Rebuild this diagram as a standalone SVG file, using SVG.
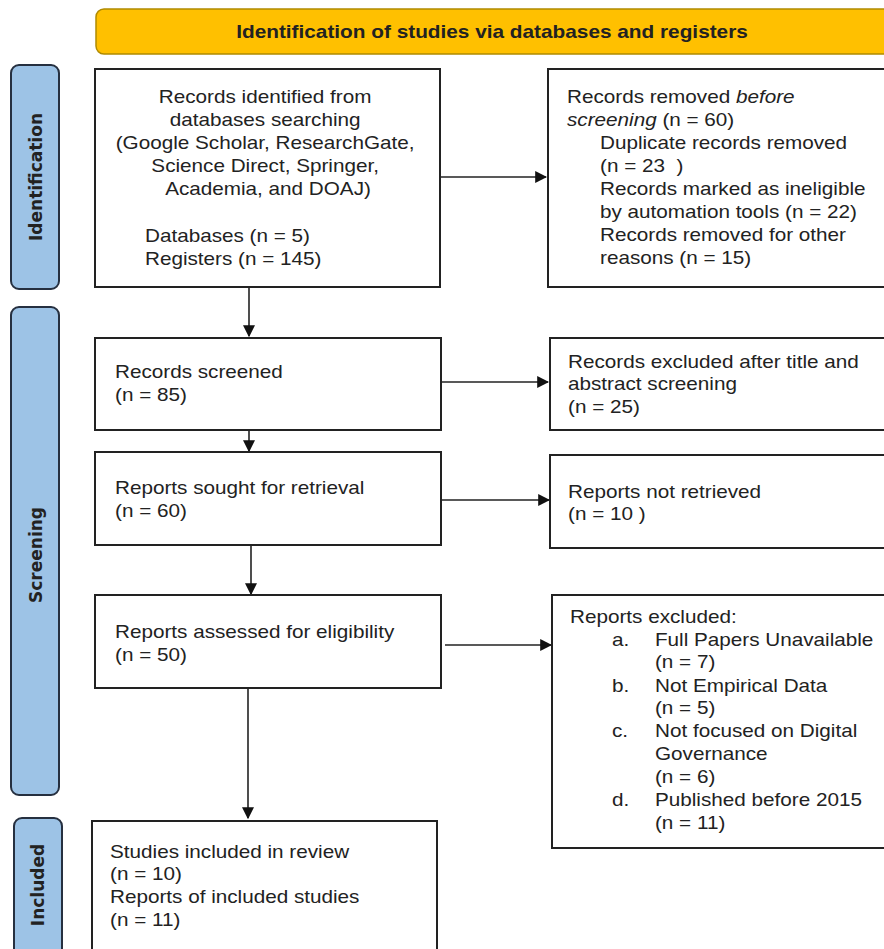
<svg xmlns="http://www.w3.org/2000/svg" width="884" height="949" viewBox="0 0 884 949">
<defs>
<style>
.box{fill:#fff;stroke:#222;stroke-width:2}
.side{fill:#9dc3e6;stroke:#263040;stroke-width:2}
.t{font-family:"Liberation Sans",Arial,sans-serif;font-size:18px;fill:#222}
.bt{font-family:"Liberation Sans",Arial,sans-serif;font-size:18px;font-weight:bold;fill:#222}
.st{font-family:"DejaVu Sans",Verdana,sans-serif;font-size:17px;font-weight:bold;fill:#222}
.ln{stroke:#222;stroke-width:1.6;fill:none}
</style>
<marker id="ah" viewBox="0 0 10 10" refX="9" refY="5" markerWidth="7.5" markerHeight="7.5" orient="auto">
<path d="M0,0 L10,5 L0,10 Z" fill="#111"/>
</marker>
</defs>
<rect width="884" height="949" fill="#fff"/>

<g id="banner">
<rect x="96" y="9" width="800" height="45" rx="8" fill="#ffc000" stroke="#b08a00" stroke-width="1.5"/>
<g transform="translate(492,38) scale(1.155,1)"><text x="0" y="0" text-anchor="middle" class="bt">Identification of studies via databases and registers</text></g>
</g>

<g id="side-identification">
<rect class="side" x="11" y="65" width="48" height="224" rx="8"/>
<text class="st" transform="translate(42,177) rotate(-90)" text-anchor="middle">Identification</text>
</g>
<g id="side-screening">
<rect class="side" x="11" y="307" width="48" height="488" rx="8"/>
<text class="st" transform="translate(42,555) rotate(-90)" text-anchor="middle">Screening</text>
</g>
<g id="side-included">
<rect class="side" x="14" y="818" width="48" height="140" rx="8"/>
<text class="st" transform="translate(44,885) rotate(-90)" text-anchor="middle">Included</text>
</g>

<g id="connectors">
<line class="ln" x1="440" y1="177" x2="546" y2="177" marker-end="url(#ah)"/>
<line class="ln" x1="249" y1="287" x2="249" y2="336" marker-end="url(#ah)"/>
<line class="ln" x1="441" y1="382" x2="548" y2="382" marker-end="url(#ah)"/>
<line class="ln" x1="249" y1="402" x2="249" y2="451" marker-end="url(#ah)"/>
<line class="ln" x1="441" y1="500" x2="549" y2="500" marker-end="url(#ah)"/>
<line class="ln" x1="251" y1="545" x2="251" y2="594" marker-end="url(#ah)"/>
<line class="ln" x1="445" y1="645" x2="551" y2="645" marker-end="url(#ah)"/>
<line class="ln" x1="248" y1="688" x2="248" y2="818" marker-end="url(#ah)"/>
</g>

<g id="n-identified">
<rect class="box" x="95" y="69" width="345" height="218"/>
<g transform="translate(268,0) scale(1.15,1)">
<text class="t" text-anchor="middle">
<tspan x="0" y="103">Records identified from</tspan>
<tspan x="0" y="126">databases searching</tspan>
<tspan x="0" y="149">(Google Scholar, ResearchGate,</tspan>
<tspan x="0" y="172">Science Direct, Springer,</tspan>
<tspan x="0" y="195">Academia, and DOAJ)</tspan>
</text>
</g>
<g transform="translate(145,0) scale(1.15,1)">
<text class="t"><tspan x="0" y="242">Databases (n = 5)</tspan><tspan x="0" y="265">Registers (n = 145)</tspan></text>
</g>
</g>

<g id="n-removed">
<rect class="box" x="548" y="69" width="346" height="218"/>
<g transform="translate(567,0) scale(1.15,1)">
<text class="t">
<tspan x="0" y="103">Records removed <tspan font-style="italic">before</tspan></tspan>
<tspan x="0" y="126"><tspan font-style="italic">screening</tspan> (n = 60)</tspan>
<tspan x="28.7" y="149">Duplicate records removed</tspan>
<tspan x="28.7" y="172">(n = 23&#160; )</tspan>
<tspan x="28.7" y="195">Records marked as ineligible</tspan>
<tspan x="28.7" y="218">by automation tools (n = 22)</tspan>
<tspan x="28.7" y="241">Records removed for other</tspan>
<tspan x="28.7" y="264">reasons (n = 15)</tspan>
</text>
</g>
</g>

<g id="n-screened">
<rect class="box" x="95" y="338" width="346" height="92"/>
<g transform="translate(115,0) scale(1.15,1)">
<text class="t"><tspan x="0" y="378">Records screened</tspan><tspan x="0" y="401">(n = 85)</tspan></text>
</g>
</g>

<g id="n-excluded-title">
<rect class="box" x="550" y="338" width="344" height="92"/>
<g transform="translate(568,0) scale(1.15,1)">
<text class="t"><tspan x="0" y="368">Records excluded after title and</tspan><tspan x="0" y="390">abstract screening</tspan><tspan x="0" y="413">(n = 25)</tspan></text>
</g>
</g>

<g id="n-sought">
<rect class="box" x="95" y="452" width="346" height="93"/>
<g transform="translate(115,0) scale(1.15,1)">
<text class="t"><tspan x="0" y="494">Reports sought for retrieval</tspan><tspan x="0" y="517">(n = 60)</tspan></text>
</g>
</g>

<g id="n-not-retrieved">
<rect class="box" x="550" y="455" width="344" height="93"/>
<g transform="translate(568,0) scale(1.15,1)">
<text class="t"><tspan x="0" y="498">Reports not retrieved</tspan><tspan x="0" y="520">(n = 10 )</tspan></text>
</g>
</g>

<g id="n-assessed">
<rect class="box" x="95" y="595" width="346" height="93"/>
<g transform="translate(115,0) scale(1.15,1)">
<text class="t"><tspan x="0" y="638">Reports assessed for eligibility</tspan><tspan x="0" y="661">(n = 50)</tspan></text>
</g>
</g>

<g id="n-reports-excluded">
<rect class="box" x="552" y="595" width="342" height="253"/>
<g transform="translate(570,0) scale(1.15,1)">
<text class="t">
<tspan x="0" y="623">Reports excluded:</tspan>
<tspan x="36.5" y="646">a.</tspan><tspan x="73.9" y="646">Full Papers Unavailable</tspan>
<tspan x="73.9" y="668">(n = 7)</tspan>
<tspan x="36.5" y="692">b.</tspan><tspan x="73.9" y="692">Not Empirical Data</tspan>
<tspan x="73.9" y="714">(n = 5)</tspan>
<tspan x="36.5" y="737">c.</tspan><tspan x="73.9" y="737">Not focused on Digital</tspan>
<tspan x="73.9" y="760">Governance</tspan>
<tspan x="73.9" y="783">(n = 6)</tspan>
<tspan x="36.5" y="806">d.</tspan><tspan x="73.9" y="806">Published before 2015</tspan>
<tspan x="73.9" y="829">(n = 11)</tspan>
</text>
</g>
</g>

<g id="n-included">
<rect class="box" x="92" y="821" width="345" height="140"/>
<g transform="translate(110,0) scale(1.15,1)">
<text class="t"><tspan x="0" y="858">Studies included in review</tspan><tspan x="0" y="880">(n = 10)</tspan><tspan x="0" y="903">Reports of included studies</tspan><tspan x="0" y="926">(n = 11)</tspan></text>
</g>
</g>
</svg>
